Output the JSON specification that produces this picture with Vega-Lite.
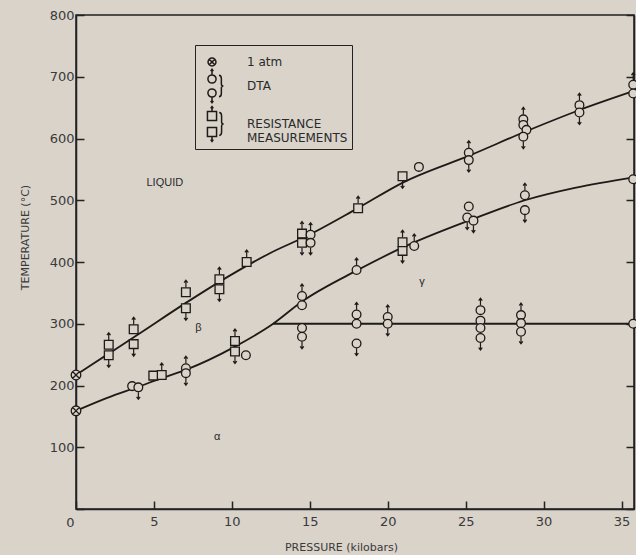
{
  "$schema": "https://vega.github.io/schema/vega-lite/v6.json",
  "width": 558,
  "height": 494,
  "autosize": {"type": "none"},
  "padding": {"left": 76, "top": 15, "right": 2, "bottom": 46},
  "background": "#d9d3ca",
  "config": {
    "view": {"stroke": "#222", "strokeWidth": 1.5},
    "axis": {"domainColor": "#222", "domainWidth": 1.5, "tickColor": "#222", "tickWidth": 1.5, "labelColor": "#3a3a3a", "labelFont": "DejaVu Sans", "labelFontSize": 13, "titleColor": "#3a3a3a", "titleFont": "DejaVu Sans", "titleFontSize": 11, "titleFontWeight": "normal", "grid": false}
  },
  "datasets": {
    "curves": [
      {"p": 0, "t": 217, "c": "liq"}, {"p": 2, "t": 250, "c": "liq"}, {"p": 4, "t": 283, "c": "liq"}, {"p": 7, "t": 333, "c": "liq"}, {"p": 10, "t": 380, "c": "liq"}, {"p": 12.5, "t": 415, "c": "liq"}, {"p": 14.8, "t": 442, "c": "liq"}, {"p": 18, "t": 486, "c": "liq"}, {"p": 21, "t": 529, "c": "liq"}, {"p": 25.3, "t": 573, "c": "liq"}, {"p": 29, "t": 613, "c": "liq"}, {"p": 32.4, "t": 647, "c": "liq"}, {"p": 35.8, "t": 677, "c": "liq"},
      {"p": 0, "t": 159, "c": "ab"}, {"p": 2, "t": 180, "c": "ab"}, {"p": 4, "t": 198, "c": "ab"}, {"p": 5.5, "t": 212, "c": "ab"}, {"p": 7, "t": 225, "c": "ab"}, {"p": 10.2, "t": 263, "c": "ab"}, {"p": 12.65, "t": 300, "c": "ab"}, {"p": 14.5, "t": 336, "c": "ab"}, {"p": 18, "t": 386, "c": "ab"}, {"p": 21, "t": 424, "c": "ab"}, {"p": 25.3, "t": 468, "c": "ab"}, {"p": 28.8, "t": 500, "c": "ab"}, {"p": 32, "t": 520, "c": "ab"}, {"p": 35.8, "t": 537, "c": "ab"},
      {"p": 12.65, "t": 300, "c": "ag"}, {"p": 35.8, "t": 300, "c": "ag"}
    ],
    "pts": [
      {"p": 0, "t": 217, "type": "atm", "dir": "n"},
      {"p": 0, "t": 159, "type": "atm", "dir": "n"},
      {"p": 2.1, "t": 266, "type": "RES", "dir": "u"}, {"p": 2.1, "t": 249, "type": "RES", "dir": "d"},
      {"p": 3.7, "t": 291, "type": "RES", "dir": "u"}, {"p": 3.7, "t": 267, "type": "RES", "dir": "d"},
      {"p": 7.05, "t": 351, "type": "RES", "dir": "u"}, {"p": 7.05, "t": 325, "type": "RES", "dir": "d"},
      {"p": 9.2, "t": 372, "type": "RES", "dir": "u"}, {"p": 9.2, "t": 356, "type": "RES", "dir": "d"},
      {"p": 10.95, "t": 400, "type": "RES", "dir": "u"},
      {"p": 14.5, "t": 446, "type": "RES", "dir": "u"}, {"p": 14.5, "t": 431, "type": "RES", "dir": "d"},
      {"p": 18.1, "t": 487, "type": "RES", "dir": "u"},
      {"p": 20.95, "t": 539, "type": "RES", "dir": "d"},
      {"p": 20.95, "t": 432, "type": "RES", "dir": "u"}, {"p": 20.95, "t": 418, "type": "RES", "dir": "d"},
      {"p": 10.2, "t": 272, "type": "RES", "dir": "u"}, {"p": 10.2, "t": 255, "type": "RES", "dir": "d"},
      {"p": 4.96, "t": 216, "type": "RES", "dir": "n"}, {"p": 5.5, "t": 217, "type": "RES", "dir": "u"},
      {"p": 3.6, "t": 199, "type": "DTA", "dir": "n"}, {"p": 4.0, "t": 197, "type": "DTA", "dir": "d"},
      {"p": 7.05, "t": 228, "type": "DTA", "dir": "u"}, {"p": 7.05, "t": 220, "type": "DTA", "dir": "d"},
      {"p": 10.9, "t": 249, "type": "DTA", "dir": "n"},
      {"p": 15.05, "t": 444, "type": "DTA", "dir": "u"}, {"p": 15.05, "t": 431, "type": "DTA", "dir": "d"},
      {"p": 22.0, "t": 554, "type": "DTA", "dir": "n"},
      {"p": 25.2, "t": 577, "type": "DTA", "dir": "u"}, {"p": 25.2, "t": 565, "type": "DTA", "dir": "d"},
      {"p": 28.7, "t": 631, "type": "DTA", "dir": "u"}, {"p": 28.7, "t": 622, "type": "DTA", "dir": "n"}, {"p": 28.9, "t": 614, "type": "DTA", "dir": "n"}, {"p": 28.7, "t": 603, "type": "DTA", "dir": "d"},
      {"p": 32.3, "t": 654, "type": "DTA", "dir": "u"}, {"p": 32.3, "t": 642, "type": "DTA", "dir": "d"},
      {"p": 35.75, "t": 687, "type": "DTA", "dir": "u"}, {"p": 35.75, "t": 673, "type": "DTA", "dir": "n"},
      {"p": 14.5, "t": 345, "type": "DTA", "dir": "u"}, {"p": 14.5, "t": 330, "type": "DTA", "dir": "n"},
      {"p": 18.0, "t": 387, "type": "DTA", "dir": "u"},
      {"p": 21.7, "t": 426, "type": "DTA", "dir": "u"},
      {"p": 25.2, "t": 490, "type": "DTA", "dir": "n"}, {"p": 25.1, "t": 472, "type": "DTA", "dir": "d"}, {"p": 25.5, "t": 467, "type": "DTA", "dir": "d"},
      {"p": 28.8, "t": 508, "type": "DTA", "dir": "u"}, {"p": 28.8, "t": 484, "type": "DTA", "dir": "d"},
      {"p": 35.75, "t": 534, "type": "DTA", "dir": "n"},
      {"p": 14.5, "t": 293, "type": "DTA", "dir": "n"}, {"p": 14.5, "t": 279, "type": "DTA", "dir": "d"},
      {"p": 18.0, "t": 315, "type": "DTA", "dir": "u"}, {"p": 18.0, "t": 300, "type": "DTA", "dir": "n"}, {"p": 18.0, "t": 268, "type": "DTA", "dir": "d"},
      {"p": 20.0, "t": 311, "type": "DTA", "dir": "u"}, {"p": 20.0, "t": 300, "type": "DTA", "dir": "d"},
      {"p": 25.95, "t": 322, "type": "DTA", "dir": "u"}, {"p": 25.95, "t": 305, "type": "DTA", "dir": "n"}, {"p": 25.95, "t": 293, "type": "DTA", "dir": "n"}, {"p": 25.95, "t": 277, "type": "DTA", "dir": "d"},
      {"p": 28.55, "t": 314, "type": "DTA", "dir": "u"}, {"p": 28.55, "t": 301, "type": "DTA", "dir": "n"}, {"p": 28.55, "t": 287, "type": "DTA", "dir": "d"},
      {"p": 35.75, "t": 300, "type": "DTA", "dir": "n"}
    ],
    "keys": [{"type": "atm"}, {"type": "DTA"}, {"type": "RES"}],
    "notes": [
      {"p": 5.7, "t": 528, "label": "LIQUID", "kind": "sans"},
      {"p": 7.85, "t": 293, "label": "β", "kind": "greek"},
      {"p": 22.2, "t": 368, "label": "γ", "kind": "greek"},
      {"p": 9.05, "t": 117, "label": "α", "kind": "greek"}
    ]
  },
  "resolve": {"axis": {"y": "independent"}, "scale": {"shape": "independent"}},
  "layer": [
    {
      "data": {"name": "curves"},
      "mark": {"type": "line", "interpolate": "monotone", "color": "#1e1a17", "strokeWidth": 1.8},
      "encoding": {
        "x": {"field": "p", "type": "quantitative", "scale": {"domain": [0, 35.8], "nice": false, "zero": false},
          "axis": {"title": "PRESSURE (kilobars)", "values": [0, 5, 10, 15, 20, 25, 30, 35], "tickSize": -8, "labelPadding": 14, "labelExpr": "datum.value == 0 ? '' : datum.label", "titleX": 265, "titleY": 38, "titleBaseline": "middle"}},
        "y": {"field": "t", "type": "quantitative", "scale": {"domain": [0, 800], "nice": false},
          "axis": {"orient": "left", "title": "TEMPERATURE (°C)", "values": [0, 100, 200, 300, 400, 500, 600, 700, 800], "tickSize": -8, "labelPadding": 10, "titleX": -51, "titleY": 222, "titleAngle": -90, "titleBaseline": "middle",
            "labelOffset": {"condition": {"test": "datum.value == 0", "value": 13}, "value": 0}}},
        "detail": {"field": "c"}
      }
    },
    {
      "data": {"name": "pts"},
      "transform": [{"filter": "datum.dir != 'n'"}],
      "mark": {"type": "point", "filled": false, "stroke": "#1e1a17", "strokeWidth": 1.2, "size": 576, "opacity": 1},
      "encoding": {
        "x": {"field": "p", "type": "quantitative"},
        "y": {"field": "t", "type": "quantitative", "axis": {"orient": "right", "labels": false, "title": null, "tickSize": -8, "values": [0, 100, 200, 300, 400, 500, 600, 700, 800]}},
        "shape": {"field": "dir", "type": "nominal", "legend": null,
          "scale": {"domain": ["u", "d"], "range": ["M0,-0.4L0,-1M-0.15,-0.8L0,-1L0.15,-0.8", "M0,0.4L0,1M-0.15,0.8L0,1L0.15,0.8"]}}
      }
    },
    {
      "data": {"name": "pts"},
      "mark": {"type": "point", "filled": true, "fill": "#d9d3ca", "stroke": "#1e1a17", "strokeWidth": 1.3, "size": 76, "opacity": 1},
      "encoding": {
        "x": {"field": "p", "type": "quantitative"},
        "y": {"field": "t", "type": "quantitative", "axis": null},
        "shape": {"field": "type", "type": "nominal", "legend": null,
          "scale": {"domain": ["atm", "DTA", "RES"], "range": ["M-1.1,0A1.1,1.1 0 1,1 1.1,0A1.1,1.1 0 1,1 -1.1,0M-0.75,-0.75L0.75,0.75M-0.75,0.75L0.75,-0.75", "circle", "square"]}}
      }
    },
    {
      "data": {"name": "keys"},
      "mark": {"type": "point", "filled": true, "fill": "#d9d3ca", "stroke": "#1e1a17", "strokeWidth": 1.2, "size": 576, "opacity": 0},
      "encoding": {
        "shape": {"field": "type", "type": "nominal",
          "scale": {"domain": ["atm", "DTA", "RES"], "range": [
            "M-0.33,0A0.33,0.33 0 1,1 0.33,0A0.33,0.33 0 1,1 -0.33,0M-0.23,-0.23L0.23,0.23M-0.23,0.23L0.23,-0.23",
            "M-0.34,-0.58A0.34,0.34 0 1,1 0.34,-0.58A0.34,0.34 0 1,1 -0.34,-0.58M-0.34,0.58A0.34,0.34 0 1,1 0.34,0.58A0.34,0.34 0 1,1 -0.34,0.58M0,-0.92L0,-1.4M-0.11,-1.24L0,-1.4L0.11,-1.24M0,0.92L0,1.4M-0.11,1.24L0,1.4L0.11,1.24M0.58,-0.9Q0.78,-0.9 0.78,-0.6L0.78,-0.16Q0.78,0 0.95,0Q0.78,0 0.78,0.16L0.78,0.6Q0.78,0.9 0.58,0.9",
            "M-0.38,-1.05L0.38,-1.05L0.38,-0.29L-0.38,-0.29ZM-0.38,0.29L0.38,0.29L0.38,1.05L-0.38,1.05ZM0,-1.05L0,-1.45M-0.11,-1.3L0,-1.45L0.11,-1.3M0,1.05L0,1.45M-0.11,1.3L0,1.45L0.11,1.3M0.6,-0.95Q0.8,-0.95 0.8,-0.65L0.8,-0.16Q0.8,0 0.97,0Q0.8,0 0.8,0.16L0.8,0.65Q0.8,0.95 0.6,0.95"
          ]},
          "legend": {
            "title": null, "orient": "none", "legendX": 119, "legendY": 30,
            "strokeColor": "#222", "padding": 4, "rowPadding": -3,
            "labelOffset": 22, "labelColor": "#2a2a2a", "labelFontSize": 12, "labelFont": "DejaVu Sans",
            "symbolSize": 576, "labelLimit": 220,
            "labelExpr": "datum.value == 'RES' ? ['RESISTANCE', 'MEASUREMENTS\u00a0\u00a0\u00a0'] : datum.value == 'DTA' ? 'DTA' : '1 atm'",
            "encode": {
              "legend": {"update": {"strokeWidth": {"value": 1.5}}},
              "symbols": {"update": {
                "size": {"value": 576},
                "opacity": {"value": 1},
                "strokeOpacity": {"value": 1},
                "fillOpacity": {"value": 1},
                "strokeWidth": {"value": 1.2}
              }},
              "labels": {"update": {
                "font": {"signal": "datum.value === 'atm' ? 'Liberation Serif' : 'DejaVu Sans'"},
                "fontSize": {"signal": "datum.value === 'atm' ? 13 : 12"}
              }}
            }
          }
        }
      }
    },
    {
      "data": {"name": "notes"},
      "mark": {"type": "text", "color": "#2a2a2a"},
      "encoding": {
        "x": {"field": "p", "type": "quantitative"},
        "y": {"field": "t", "type": "quantitative", "axis": null},
        "text": {"field": "label"},
        "font": {"condition": {"test": "datum.kind == 'sans'", "value": "DejaVu Sans"}, "value": "DejaVu Serif"},
        "fontSize": {"condition": {"test": "datum.kind == 'sans'", "value": 10.5}, "value": 13},
        "fontStyle": {"condition": {"test": "datum.kind == 'sans'", "value": "normal"}, "value": "italic"},
        "fontWeight": {"condition": {"test": "datum.kind == 'sans'", "value": "bold"}, "value": "normal"}
      }
    }
  ]
}
